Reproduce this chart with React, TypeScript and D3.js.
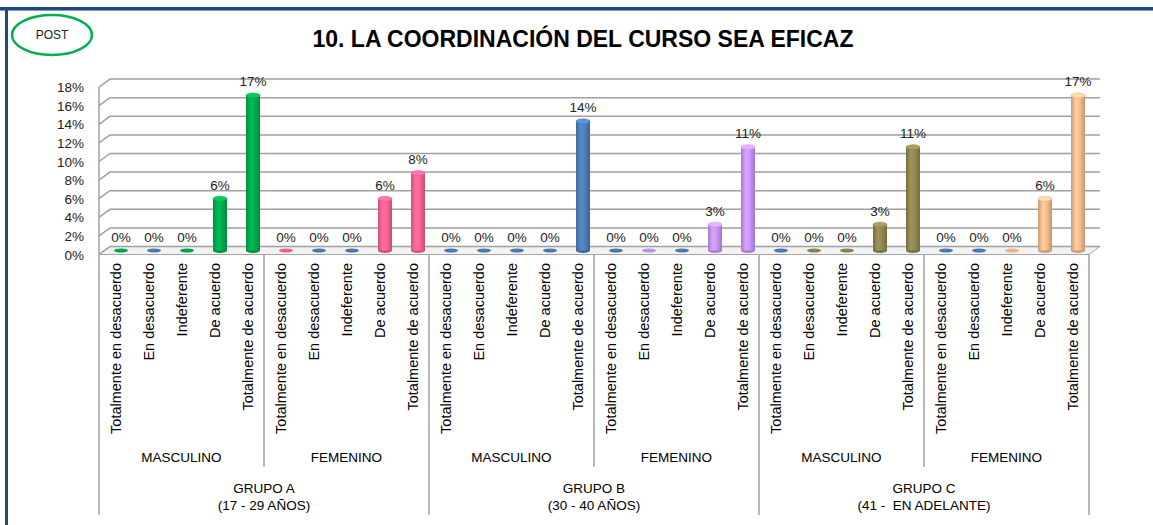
import React from 'react'
import * as d3 from 'd3'

const categories = ['Totalmente en desacuerdo', 'En desacuerdo', 'Indeferente', 'De acuerdo', 'Totalmente de acuerdo']
const sexes = ['MASCULINO', 'FEMENINO']
const groups = ['GRUPO A', 'GRUPO B', 'GRUPO C']
const groupRanges = ['(17 - 29 AÑOS)', '(30 - 40 AÑOS)', '(41 -  EN ADELANTE)']

// one array per group/sex, in the order of categories
const grupoAMasc = [0, 0, 0, 0.0556, 0.1667]
const grupoAFem = [0, 0, 0, 0.0556, 0.0833]
const grupoBMasc = [0, 0, 0, 0, 0.1389]
const grupoBFem = [0, 0, 0, 0.0278, 0.1111]
const grupoCMasc = [0, 0, 0, 0.0278, 0.1111]
const grupoCFem = [0, 0, 0, 0.0556, 0.1667]

const green = '#00B050'
const blue = '#4F81BD'
const pink = '#FF6699'
const purple = '#CC99FF'
const olive = '#948A54'
const peach = '#FAC090'
const colorsAMasc = [green, blue, green, green, green]
const colorsAFem = [pink, blue, blue, pink, pink]
const colorsBMasc = [blue, blue, blue, blue, blue]
const colorsBFem = [blue, purple, blue, purple, purple]
const colorsCMasc = [blue, olive, olive, olive, olive]
const colorsCFem = [blue, blue, peach, peach, peach]

const yTicks = [0, 0.02, 0.04, 0.06, 0.08, 0.1, 0.12, 0.14, 0.16, 0.18]

const series = [grupoAMasc, grupoAFem, grupoBMasc, grupoBFem, grupoCMasc, grupoCFem]
const seriesColors = [colorsAMasc, colorsAFem, colorsBMasc, colorsBFem, colorsCMasc, colorsCFem]

const rows = series.flatMap((vals, s) =>
	vals.map((v, c) => ({ key: `${s}-${c}`, value: v, color: seriesColors[s][c], cat: categories[c] }))
)

const W = 1153
const H = 525
const left = 99
const right = 1089
const depthX = 11
const depthY = 8
const floorFront = 254.5
const plotH = 167.4
const font = 'Liberation Sans, Arial, sans-serif'

const App = () => {
	const x = d3
		.scaleBand<string>()
		.domain(rows.map((d) => d.key))
		.range([left, right])
		.padding(0)
	const yFront = d3.scaleLinear().domain([0, 0.18]).range([floorFront, floorFront - plotH])
	const yMid = (v: number) => yFront(v) - depthY / 2
	const fmt = d3.format('.0%')
	const bw = x.bandwidth()
	const barW = 14
	const palette = Array.from(new Set(rows.map((d) => d.color)))
	const subW = bw * categories.length
	const groupW = subW * sexes.length

	return (
		<svg width={W} height={H} style={{ position: 'absolute', left: 0, top: 0, background: '#fff' }}>
			<defs>
				{palette.map((c, i) => {
					const col = d3.color(c)!
					return (
						<linearGradient key={c} id={`cyl${i}`} x1="0" x2="1" y1="0" y2="0">
							<stop offset="0%" stopColor={col.darker(0.6).formatHex()} />
							<stop offset="35%" stopColor={col.brighter(0.2).formatHex()} />
							<stop offset="60%" stopColor={col.formatHex()} />
							<stop offset="100%" stopColor={col.darker(0.7).formatHex()} />
						</linearGradient>
					)
				})}
			</defs>
			{/* frame */}
			<rect x={0} y={7} width={W} height={3} fill="#1F497D" />
			<rect x={0} y={10} width={W} height={1} fill="#7F9CC0" />
			<rect x={5} y={7} width={3} height={H} fill="#1F497D" />

			{/* POST badge */}
			<ellipse cx={52} cy={35} rx={40} ry={20} fill="none" stroke="#00B050" strokeWidth={2.5} />
			<text x={52} y={39} textAnchor="middle" fontFamily={font} fontSize={12} fill="#222">
				POST
			</text>

			<text x={583} y={47} textAnchor="middle" fontFamily={font} fontSize={23} fontWeight="bold" fill="#000">
				10. LA COORDINACIÓN DEL CURSO SEA EFICAZ
			</text>

			{/* floor */}
			<polygon
				points={`${left},${floorFront} ${right},${floorFront} ${right + depthX},${floorFront - depthY} ${left + depthX},${floorFront - depthY}`}
				fill="#F2F2F2"
				stroke="#A6A6A6"
				strokeWidth={1}
			/>
			{/* gridlines */}
			{yTicks.map((t) => (
				<g key={t}>
					<polyline
						points={`${left},${yFront(t)} ${left + depthX},${yFront(t) - depthY} ${right + depthX},${yFront(t) - depthY}`}
						fill="none"
						stroke="#A0A0A0"
						strokeWidth={1.5}
					/>
					<text x={84} y={yFront(t) + 5} textAnchor="end" fontFamily={font} fontSize={13.5} fill="#222">
						{fmt(t)}
					</text>
				</g>
			))}
			<line x1={left} x2={left} y1={yFront(0.18)} y2={floorFront} stroke="#A0A0A0" strokeWidth={1.5} />

			{/* bars */}
			{rows.map((d) => {
				const cx = x(d.key)! + bw / 2 + depthX / 2
				const base = yMid(0)
				const top = yMid(d.value)
				const gi = palette.indexOf(d.color)
				const col = d3.color(d.color)!
				return (
					<g key={d.key}>
						{d.value > 0 ? (
							<>
								<ellipse cx={cx} cy={base} rx={barW / 2} ry={2.5} fill={col.darker(0.6).formatHex()} />
								<rect x={cx - barW / 2} y={top} width={barW} height={base - top} fill={`url(#cyl${gi})`} />
								<ellipse cx={cx} cy={top} rx={barW / 2} ry={2.5} fill={col.brighter(0.4).formatHex()} stroke={col.darker(0.3).formatHex()} strokeWidth={0.5} />
							</>
						) : (
							<ellipse cx={cx} cy={base} rx={barW / 2} ry={2} fill={col.darker(0.2).formatHex()} />
						)}
						<text x={cx} y={top - 9} textAnchor="middle" fontFamily={font} fontSize={13.5} fill="#222">
							{fmt(d.value)}
						</text>
						<text
							transform={`translate(${x(d.key)! + bw / 2 + 5},263) rotate(-90)`}
							textAnchor="end"
							fontFamily={font}
							fontSize={14.5}
							fill="#000"
						>
							{d.cat}
						</text>
					</g>
				)
			})}

			{/* category separators */}
			{d3.range(groups.length * sexes.length + 1).map((i) => {
				const xx = left + i * subW
				const isGroup = i % sexes.length === 0
				return <line key={i} x1={xx} x2={xx} y1={floorFront} y2={isGroup ? 515 : 467} stroke="#A0A0A0" strokeWidth={1.5} />
			})}
			{groups.flatMap((g, gi) =>
				sexes.map((s, si) => (
					<text key={`${g}${s}`} x={left + gi * groupW + si * subW + subW / 2} y={462} textAnchor="middle" fontFamily={font} fontSize={13.5} fill="#000">
						{s}
					</text>
				))
			)}
			{groups.map((g, gi) => (
				<text key={g} x={left + gi * groupW + groupW / 2} fontFamily={font} fontSize={13.5} fill="#000" textAnchor="middle" style={{ whiteSpace: 'pre' }}>
					<tspan x={left + gi * groupW + groupW / 2} y={493}>
						{g}
					</tspan>
					<tspan x={left + gi * groupW + groupW / 2} y={510}>
						{groupRanges[gi]}
					</tspan>
				</text>
			))}
		</svg>
	)
}

export default App
